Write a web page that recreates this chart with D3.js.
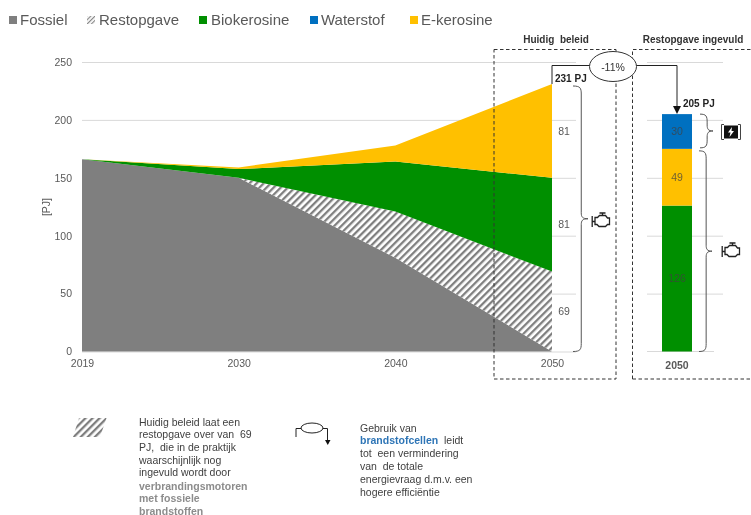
<!DOCTYPE html>
<html><head><meta charset="utf-8">
<script src="https://cdn.jsdelivr.net/npm/d3@7/dist/d3.min.js"></script>
<style>
html,body{margin:0;padding:0;background:#fff}
svg{display:block;font-family:"Liberation Sans",Arial,sans-serif;filter:blur(0.35px)}
</style></head><body>
<svg id="c" width="751" height="515"></svg>
<script>
const years=["2019","2030","2040","2050"];
const fossiel=[166,150,81,0];
const restopgave=[0,0,40,69];
const biokerosine=[0,7.5,43,81];
const ekerosine=[0,1.5,14,81];
const yTicks=[0,50,100,150,200,250];
const barCategory=["2050"];
const barBio=[126];
const barE=[49];
const barH2=[30];
const legendNames=["Fossiel","Restopgave","Biokerosine","Waterstof","E-kerosine"];
const totalLeft="231 PJ", totalRight="205 PJ", reduction="-11%";
const noteLeft=["Huidig beleid laat een","restopgave over van  69","PJ,  die in de praktijk","waarschijnlijk nog","ingevuld wordt door"];
const noteLeftGrey=["verbrandingsmotoren","met fossiele","brandstoffen"];
const noteRight=["Gebruik van","brandstofcellen","tot  een vermindering","van  de totale","energievraag d.m.v. een","hogere efficiëntie"];

const col={f:"#7f7f7f",b:"#008f00",w:"#0070c0",e:"#ffc000",grid:"#d9d9d9",txt:"#595959"};
const svg=d3.select("#c");
const defs=svg.append("defs");
const hatch=(id,stroke)=>{const p=defs.append("pattern").attr("id",id).attr("patternUnits","userSpaceOnUse")
  .attr("width",5).attr("height",5).attr("patternTransform","rotate(45)");
  p.append("rect").attr("width",5).attr("height",5).attr("fill","#fff");
  p.append("rect").attr("width",2.3).attr("height",5).attr("fill",stroke);};
hatch("h","#7f7f7f");

const y=d3.scaleLinear().domain([0,250]).range([351.5,62]);
const x=d3.scalePoint().domain(years).range([82,552]);
const xb=d3.scaleBand().domain(barCategory).range([662,692]);

// grid + axes, left panel
const gl=svg.append("g").attr("transform","translate(82,0)")
 .call(d3.axisLeft(y).tickValues(yTicks).tickSize(-494).tickPadding(10));
gl.select(".domain").remove();
gl.selectAll("line").attr("stroke",col.grid);
gl.selectAll("text").attr("fill",col.txt).attr("font-size",10.5);

const gx=svg.append("g").attr("transform",`translate(0,${y(0)})`)
 .call(d3.axisBottom(x).tickSize(0).tickPadding(8));
gx.select(".domain").remove();
gx.selectAll("text").attr("fill",col.txt).attr("font-size",10.5);

// grid right panel
const gr=svg.append("g").attr("transform","translate(647,0)")
 .call(d3.axisRight(y).tickValues(yTicks.slice(1)).tickSize(76).tickFormat(""));
gr.select(".domain").remove();
gr.selectAll("line").attr("stroke",col.grid);
svg.append("line").attr("x1",647).attr("x2",714).attr("y1",y(0)).attr("y2",y(0)).attr("stroke",col.grid);

// stacked areas
const rows=years.map((yr,i)=>({yr,f:fossiel[i],r:restopgave[i],b:biokerosine[i],e:ekerosine[i]}));
const stack=d3.stack().keys(["f","r","b","e"])(rows);
const area=d3.area().x(d=>x(d.data.yr)).y0(d=>y(d[0])).y1(d=>y(d[1]));
const fills={f:col.f,r:"url(#h)",b:col.b,e:col.e};
svg.append("g").selectAll("path").data(stack).join("path")
  .attr("d",area).attr("fill",d=>fills[d.key]);

// value labels left
const last=rows[3];
svg.append("g").selectAll("text").data(stack.slice(1)).join("text")
 .attr("x",x("2050")+12).attr("y",d=>y((d[3][0]+d[3][1])/2)).attr("dy","0.35em")
 .attr("text-anchor","middle").attr("font-size",10.5).attr("fill",col.txt)
 .text(d=>last[d.key]);

// stacked bar
const barStack=d3.stack().keys(["b","e","w"])([{c:"2050",b:barBio[0],e:barE[0],w:barH2[0]}]);
const barFill={b:col.b,e:col.e,w:col.w};
const bars=svg.append("g");
bars.selectAll("rect").data(barStack).join("rect")
 .attr("x",xb("2050")).attr("width",xb.bandwidth())
 .attr("y",d=>y(d[0][1])).attr("height",d=>y(d[0][0])-y(d[0][1]))
 .attr("fill",d=>barFill[d.key]);
bars.selectAll("text").data(barStack).join("text")
 .attr("x",xb("2050")+xb.bandwidth()/2).attr("y",d=>y((d[0][0]+d[0][1])/2)).attr("dy","0.35em")
 .attr("text-anchor","middle").attr("font-size",10.5).attr("fill","#404040").attr("fill-opacity",.75)
 .text(d=>d[0][1]-d[0][0]);
svg.append("text").attr("x",xb("2050")+xb.bandwidth()/2).attr("y",369).attr("text-anchor","middle")
 .attr("font-size",10.5).attr("font-weight","bold").attr("fill",col.txt).text("2050");

// y title
svg.append("text").attr("transform","translate(50,207) rotate(-90)").attr("text-anchor","middle")
 .attr("font-size",10.5).attr("fill",col.txt).text("[PJ]");

// legend
const lx=[9,87,199,310,410], tx=[20,99,211,321,421];
const lf=[col.f,"url(#h2)",col.b,col.w,col.e];
const p2=defs.append("pattern").attr("id","h2").attr("patternUnits","userSpaceOnUse").attr("width",3).attr("height",3).attr("patternTransform","rotate(45)");
p2.append("rect").attr("width",3).attr("height",3).attr("fill","#fff");
p2.append("rect").attr("width",1.2).attr("height",3).attr("fill","#8a8a8a");
const lg=svg.append("g").selectAll("g").data(legendNames).join("g");
lg.append("rect").attr("x",(d,i)=>lx[i]).attr("y",16).attr("width",8).attr("height",8).attr("fill",(d,i)=>lf[i]);
lg.append("text").attr("x",(d,i)=>tx[i]).attr("y",25).attr("font-size",15).attr("fill",col.txt).text(d=>d);

// dashed boxes
const dash={fill:"none",stroke:"#333","stroke-width":1,"stroke-dasharray":"3.5,2.5"};
const ap=(s,o)=>{for(const k in o)s.attr(k,o[k]);return s;};
ap(svg.append("rect").attr("x",494).attr("y",49.5).attr("width",122).attr("height",329.5),dash);
ap(svg.append("path").attr("d","M632.5,379 L632.5,49.5 L751,49.5 M632.5,379 L751,379"),dash);

// headers
svg.append("text").attr("x",556).attr("y",43).attr("text-anchor","middle").attr("font-size",10).attr("font-weight","bold").attr("fill","#333").attr("xml:space","preserve").style("white-space","pre").text("Huidig  beleid");
svg.append("text").attr("x",693).attr("y",43).attr("text-anchor","middle").attr("font-size",10).attr("font-weight","bold").attr("fill","#333").text("Restopgave ingevuld");

// connector
const barTop=y(barBio[0]+barE[0]+barH2[0]);
const totTop=y(d3.sum(stack.map(s=>s[3][1]-s[3][0])));
const cx=xb("2050")+xb.bandwidth()/2;
svg.append("path").attr("d",`M${x("2050")},84 V65.5 H${cx} V${barTop-7}`).attr("fill","none").attr("stroke","#222").attr("stroke-width",1);
svg.append("path").attr("d",`M${cx-4},${barTop-8} h8 l-4,8 z`).attr("fill","#111");
svg.append("ellipse").attr("cx",613).attr("cy",66.5).attr("rx",23.5).attr("ry",15).attr("fill","#fff").attr("stroke","#333");
svg.append("text").attr("x",613).attr("y",70.5).attr("text-anchor","middle").attr("font-size",10.5).attr("fill","#333").text(reduction);
svg.append("text").attr("x",x("2050")+3).attr("y",82).attr("font-size",10).attr("font-weight","bold").attr("fill","#222").text(totalLeft);
svg.append("text").attr("x",683).attr("y",107).attr("font-size",10).attr("font-weight","bold").attr("fill","#222").text(totalRight);

// braces
function brace(x0,y0,y1,w){const m=(y0+y1)/2,a=x0+w*.55,t=x0+w;
 return `M${x0},${y0} C${a-1},${y0} ${a},${y0+2} ${a},${y0+8} V${m-6} C${a},${m-2} ${a+1},${m} ${t},${m} C${a+1},${m} ${a},${m+2} ${a},${m+6} V${y1-8} C${a},${y1-2} ${a-1},${y1} ${x0},${y1}`;}
const br=[[573,y(231)+2,y(0),15],[700,y(205),y(175)-1,13],[699,y(175)+2,y(0),13]];
svg.append("g").selectAll("path").data(br).join("path").attr("d",d=>brace(...d)).attr("fill","none").attr("stroke","#555").attr("stroke-width",1);

// engine icons
function engine(cxx,cyy){const g=svg.append("g").attr("transform",`translate(${cxx-10},${cyy-8})`).attr("fill","none").attr("stroke","#222").attr("stroke-width",1.3);
 g.append("path").attr("d","M0.7,4 V15 M0.7,9.5 H3.5 M3.5,5.5 H6 L8,3.5 H14 L16,6 H18 V12.5 H16 L14,14.5 H7.5 L5.5,12.5 H3.5 Z M8,1 H14 M11,1 V3.5");}
engine(601.5,220); engine(731.5,250);

// fuel-cell icon
const bi=svg.append("g").attr("transform","translate(721,124)");
bi.append("path").attr("d","M3,0.5 H0.5 V15.5 H3 M17,0.5 H19.5 V15.5 H17").attr("fill","none").attr("stroke","#444");
bi.append("rect").attr("x",3).attr("y",1.5).attr("width",14).attr("height",13).attr("fill","#111");
bi.append("path").attr("d","M11,3 L7,8.5 H9.5 L8.5,13 L13,7 H10.5 Z").attr("fill","#fff");

// notes
const nl=svg.append("g").attr("font-size",10.5);
nl.selectAll(".a").data(noteLeft).join("text").attr("class","a").attr("x",139).attr("y",(d,i)=>425.5+i*12.7).attr("fill","#404040").style("white-space","pre").text(d=>d);
nl.selectAll(".g").data(noteLeftGrey).join("text").attr("class","g").attr("x",139).attr("y",(d,i)=>489.5+i*12.7).attr("fill","#8c8c8c").attr("font-weight","bold").text(d=>d);
const nr=svg.append("g").attr("font-size",10.5);
nr.selectAll("text").data(noteRight).join("text").attr("x",360).attr("y",(d,i)=>431.5+i*12.9).attr("fill","#404040").style("white-space","pre")
 .each(function(d,i){const s=d3.select(this);
  if(i===1){s.append("tspan").attr("fill","#2e75b6").attr("font-weight","bold").text(d);s.append("tspan").text("  leidt");}
  else s.text(d);});

// legend samples
svg.append("path").attr("d","M73,437 L79,418 H106.5 L100,437 Z").attr("fill","url(#h)");
const ci=svg.append("g").attr("fill","none").attr("stroke","#222");
ci.append("path").attr("d","M296,437 V428.5 H301 M323,428.5 H327.5 V440");
ci.append("ellipse").attr("cx",312).attr("cy",428).attr("rx",11).attr("ry",5).attr("fill","#fff");
svg.append("path").attr("d","M325,440 h5.5 l-2.75,5 z").attr("fill","#111");
</script>
</body></html>
